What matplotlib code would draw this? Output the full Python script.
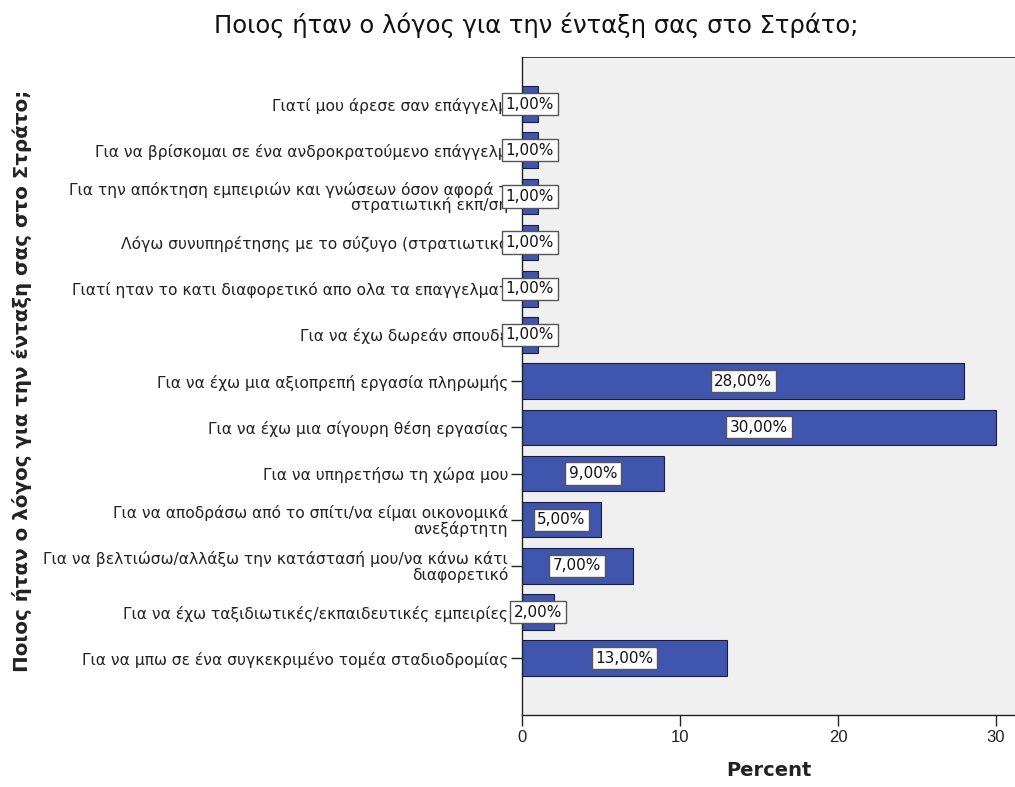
import matplotlib
matplotlib.use('Agg')
import matplotlib.pyplot as plt

# categories (top to bottom) and percent values
reasons = [
    'Γιατί μου άρεσε σαν επάγγελμ',
    'Για να βρίσκομαι σε ένα ανδροκρατούμενο επάγγελμ',
    'Για την απόκτηση εμπειριών και γνώσεων όσον αφορά τ\nστρατιωτική εκπ/ση',
    'Λόγω συνυπηρέτησης με το σύζυγο (στρατιωτικό',
    'Γιατί ηταν το κατι διαφορετικό απο ολα τα επαγγελματ',
    'Για να έχω δωρεάν σπουδέ',
    'Για να έχω μια αξιοπρεπή εργασία πληρωμής',
    'Για να έχω μια σίγουρη θέση εργασίας',
    'Για να υπηρετήσω τη χώρα μου',
    'Για να αποδράσω από το σπίτι/να είμαι οικονομικά\nανεξάρτητη',
    'Για να βελτιώσω/αλλάξω την κατάστασή μου/να κάνω κάτι\nδιαφορετικό',
    'Για να έχω ταξιδιωτικές/εκπαιδευτικές εμπειρίες',
    'Για να μπω σε ένα συγκεκριμένο τομέα σταδιοδρομίας',
]
percents = [1, 1, 1, 1, 1, 1, 28, 30, 9, 5, 7, 2, 13]
x_ticks = [0, 10, 20, 30]

title = 'Ποιος ήταν ο λόγος για την ένταξη σας στο Στράτο;'

plt.rcParams['font.family'] = ['DejaVu Sans']

fig = plt.figure(figsize=(10.15, 7.87), dpi=100)
ax = fig.add_axes([522 / 1015, 72 / 787, 493 / 1015, 658 / 787])
ax.set_facecolor('#f0f0f0')

pos = list(range(len(reasons)))
ax.barh(pos, percents, height=0.77, color='#3f55ae', edgecolor='#1c1f3a', linewidth=0.8, zorder=2)

for y, v in zip(pos, percents):
    ax.text(v / 2, y, f'{v:.2f}%'.replace('.', ','), ha='center', va='center', fontsize=11,
            color='#111111', zorder=5, clip_on=False,
            bbox=dict(boxstyle='square,pad=0.24', facecolor='white', edgecolor='#555555', linewidth=1.0))

ax.set_ylim(13.23, -1.02)
ax.set_xlim(0, 31.2)
ax.set_yticks(pos)
ax.set_yticklabels(reasons, fontsize=11.2, color='#222222', ha='right', multialignment='right',
                   linespacing=0.95)
ax.set_xticks(x_ticks)
ax.set_xticklabels([str(t) for t in x_ticks], fontsize=12, color='#222222', family='Liberation Sans')
ax.tick_params(axis='y', length=8, width=1, pad=2, color='#222222')
ax.tick_params(axis='x', length=8, width=1, pad=3, color='#222222')

ax.spines['right'].set_visible(False)
for s in ['left', 'bottom', 'top']:
    ax.spines[s].set_color('#222222')
    ax.spines[s].set_linewidth(1.0)
ax.spines['top'].set_linewidth(0.6)

ax.set_xlabel('Percent', fontsize=14, fontweight='bold', labelpad=11, color='#222222')
fig.text(22 / 1015, 1 - 381 / 787, title, rotation=90, ha='center', va='center',
         fontsize=14.3, fontweight='bold', color='#222222')
fig.text(536 / 1015, 1 - 25 / 787, title, ha='center', va='center', fontsize=17.5, color='#111111')

fig.savefig('out.png', dpi=100)
